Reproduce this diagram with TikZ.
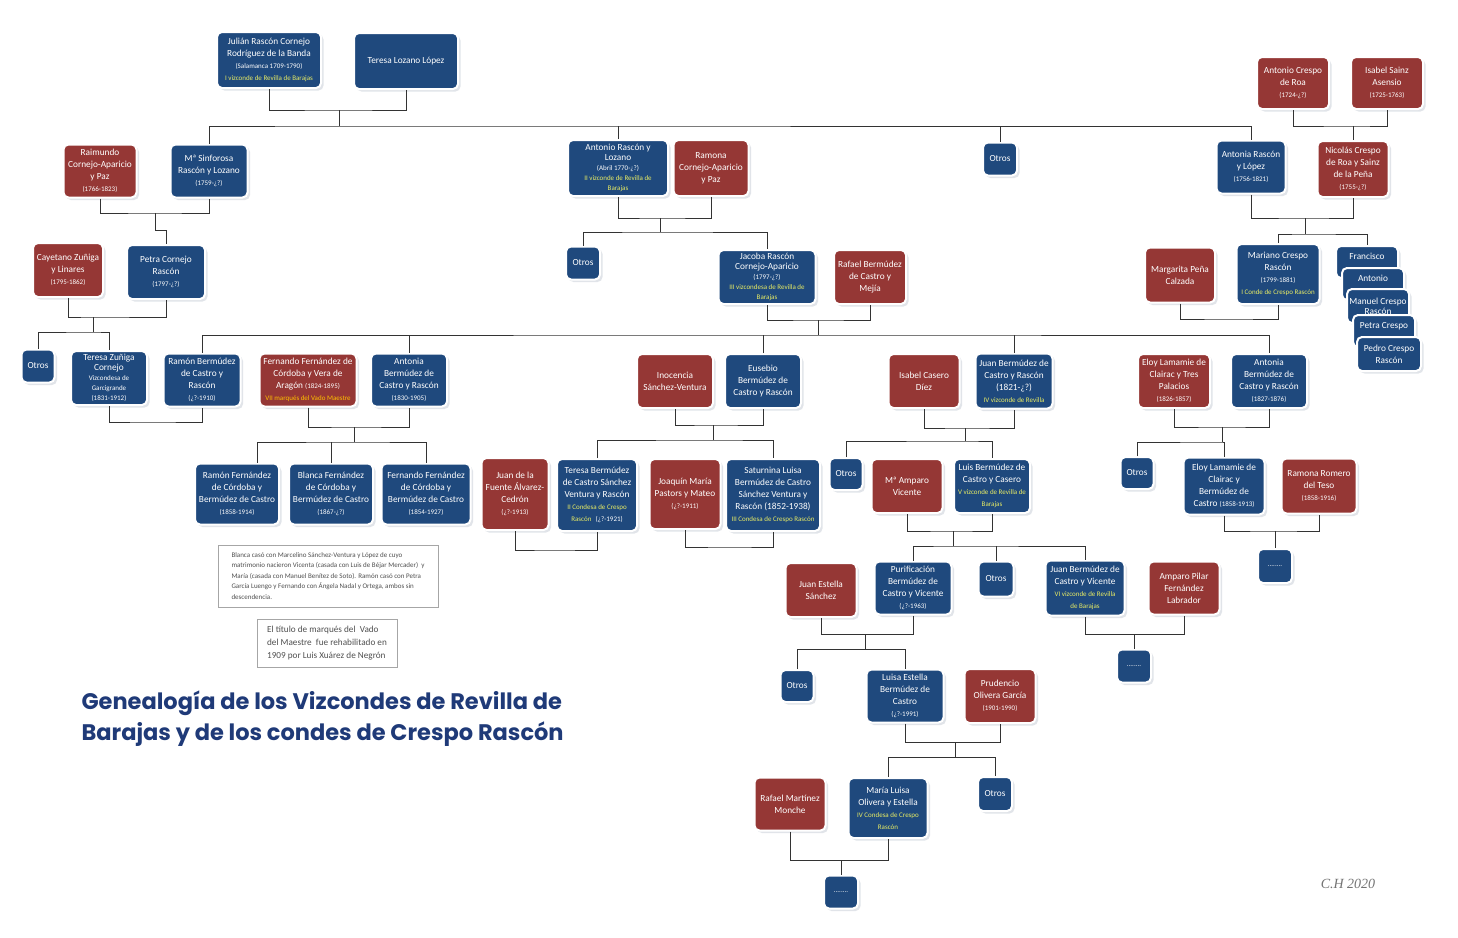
\documentclass[tikz,border=0pt]{standalone}
\usepackage{fontspec}
\setmainfont{Carlito}
\newfontfamily\titlefont{Poppins}
\newfontfamily\signfont{Liberation Serif}
\usetikzlibrary{shadows}

\definecolor{boxblue}{RGB}{31,73,125}
\definecolor{boxred}{RGB}{149,55,53}
\definecolor{titleyellow}{RGB}{232,236,100}
\definecolor{titleorange}{RGB}{255,192,0}
\definecolor{headblue}{RGB}{31,58,120}
\definecolor{notegray}{RGB}{80,80,80}

\makeatletter
\newcommand{\fecha}[1]{{\fontsize{7}{\f@baselineskip}\selectfont #1}}
\newcommand{\titulo}[1]{{\fontsize{7}{\f@baselineskip}\selectfont\color{titleyellow}#1}}
\newcommand{\marques}[1]{{\fontsize{7}{\f@baselineskip}\selectfont\color{titleorange}#1}}
\makeatother

\tikzset{
  person/.style={rounded corners=5pt, draw=white, line width=2pt, text=white,
    align=center, inner sep=1pt, font=\fontsize{9.3}{12}\selectfont,
    drop shadow={shadow xshift=2.5pt, shadow yshift=-2.5pt, fill=black!35!boxblue!25}},
  bluebox/.style={person, fill=boxblue},
  redbox/.style={person, fill=boxred},
  tight/.style={font=\fontsize{9.3}{10}\selectfont},
  sz/.style 2 args={minimum width=#1pt, minimum height=#2pt},
  link/.style={draw=black!80, line width=0.8pt},
  note/.style={draw=black!35, line width=0.6pt, align=left, text=notegray},
  heading/.style={anchor=base west, text=headblue, font=\titlefont\bfseries\fontsize{22.5}{31}\selectfont},
}

\begin{document}
\begin{tikzpicture}[x=1pt,y=-1pt]
  \fill[white] (0,0) rectangle (1458,937);
  \useasboundingbox (0,0) rectangle (1458,937);

  % first generation
  \node[bluebox, sz={104}{56}] (julian) at (269,60) {Julián Rascón Cornejo\\Rodríguez de la Banda\\\fecha{(Salamanca 1709-1790)}\\\titulo{I vizconde de Revilla de Barajas}};
  \node[bluebox, sz={104}{56}] (teresaL) at (406,61) {Teresa Lozano López};
  \node[redbox, sz={72}{52}] (antonioC) at (1293,83) {Antonio Crespo\\de Roa\\\fecha{(1724-¿?)}};
  \node[redbox, sz={72}{52}] (isabelS) at (1387,83) {Isabel Sainz\\Asensio\\\fecha{(1725-1763)}};

  % second generation
  \node[redbox, sz={73}{53}] (raimundo) at (100,171) {Raimundo\\Cornejo-Aparicio\\y Paz\\\fecha{(1766-1823)}};
  \node[bluebox, sz={77}{53}] (sinforosa) at (209,171) {Mª Sinforosa\\Rascón y Lozano\\\fecha{(1759-¿?)}};
  \node[bluebox, tight, sz={100}{56}] (antonioR) at (618,168) {Antonio Rascón y\\Lozano\\\fecha{(Abril 1770-¿?)}\\\titulo{II vizconde de Revilla de}\\\titulo{Barajas}};
  \node[redbox, sz={75}{56}] (ramona) at (711,168) {Ramona\\Cornejo-Aparicio\\y Paz};
  \node[bluebox, sz={34}{33}] (otrosA) at (1000,159) {Otros};
  \node[bluebox, sz={69}{53}] (antoniaR) at (1251,167) {Antonia Rascón\\y López\\\fecha{(1756-1821)}};
  \node[redbox, sz={71}{56}] (nicolas) at (1353,169) {Nicolás Crespo\\de Roa y Sainz\\de la Peña\\\fecha{(1755-¿?)}};

  % third generation
  \node[redbox, sz={70}{54}] (cayetano) at (68,270) {Cayetano Zuñiga\\y Linares\\\fecha{(1795-1862)}};
  \node[bluebox, sz={78}{54}] (petraR) at (166,272) {Petra Cornejo\\Rascón\\\fecha{(1797-¿?)}};
  \node[bluebox, sz={34}{33}] (otrosB) at (583,263) {Otros};
  \node[bluebox, tight, sz={97}{54}] (jacoba) at (767,277) {Jacoba Rascón\\Cornejo-Aparicio\\\fecha{(1797-¿?)}\\\titulo{III vizcondesa de Revilla de}\\\titulo{Barajas}};
  \node[redbox, sz={72}{54}] (rafaelB) at (870,277) {Rafael Bermúdez\\de Castro y\\Mejía};
  \node[redbox, sz={70}{55}] (margarita) at (1180,275) {Margarita Peña\\Calzada};
  \node[bluebox, sz={83}{60}] (mariano) at (1278,274) {Mariano Crespo\\Rascón\\\fecha{(1799-1881)}\\\titulo{I Conde de Crespo Rascón}};
  \node[bluebox, sz={62}{32}] (francisco) at (1367,262) {Francisco\\~};
  \node[bluebox, sz={62}{32}] (antonioS) at (1373,284) {Antonio\\~};
  \node[bluebox, tight, sz={62}{34}] (manuel) at (1378,306) {Manuel Crespo\\Rascón};
  \node[bluebox, sz={62}{32}] (petraC) at (1384,331) {Petra Crespo\\~};
  \node[bluebox, sz={64}{34}] (pedro) at (1389,354) {Pedro Crespo\\Rascón};

  % fourth generation
  \node[bluebox, sz={33}{33}] (otrosC) at (38,366) {Otros};
  \node[bluebox, tight, sz={76}{54}] (teresaZ) at (109,378) {Teresa Zuñiga\\Cornejo\\\fecha{Vizcondesa de}\\\fecha{Garcigrande}\\\fecha{(1831-1912)}};
  \node[bluebox, sz={77}{53}] (ramonB) at (202,380) {Ramón Bermúdez\\de Castro y\\Rascón\\\fecha{(¿?-1910)}};
  \node[redbox, sz={97}{53}] (fernandoV) at (308,380) {Fernando Fernández de\\Córdoba y Vera de\\Aragón \fecha{(1824-1895)}\\\marques{VII marqués del Vado Maestre}};
  \node[bluebox, sz={76}{53}] (antoniaB) at (409,380) {Antonia\\Bermúdez de\\Castro y Rascón\\\fecha{(1830-1905)}};
  \node[redbox, sz={76}{54}] (inocencia) at (675,381) {Inocencia\\Sánchez-Ventura};
  \node[bluebox, sz={76}{54}] (eusebio) at (763,381) {Eusebio\\Bermúdez de\\Castro y Rascón};
  \node[redbox, sz={71}{54}] (isabelC) at (924,381) {Isabel Casero\\Díez};
  \node[bluebox, sz={77}{55}] (juanB4) at (1014,381) {Juan Bermúdez de\\Castro y Rascón\\(1821-¿?)\\\titulo{IV vizconde de Revilla}};
  \node[redbox, sz={72}{54}] (eloyT) at (1174,381) {Eloy Lamamie de\\Clairac y Tres\\Palacios\\\fecha{(1826-1857)}};
  \node[bluebox, sz={76}{54}] (antoniaB2) at (1269,381) {Antonia\\Bermúdez de\\Castro y Rascón\\\fecha{(1827-1876)}};

  % fifth generation
  \node[bluebox, sz={84}{61}] (ramonF) at (237,494) {Ramón Fernández\\de Córdoba y\\Bermúdez de Castro\\\fecha{(1858-1914)}};
  \node[bluebox, sz={84}{61}] (blanca) at (331,494) {Blanca Fernández\\de Córdoba y\\Bermúdez de Castro\\\fecha{(1867-¿?)}};
  \node[bluebox, sz={89}{61}] (fernandoF) at (426,494) {Fernando Fernández\\de Córdoba y\\Bermúdez de Castro\\\fecha{(1854-1927)}};
  \node[redbox, sz={67}{72}] (juanF) at (515,494) {Juan de la\\Fuente Álvarez-\\Cedrón\\\fecha{(¿?-1913)}};
  \node[bluebox, sz={80}{72}] (teresaB) at (597,495) {Teresa Bermúdez\\de Castro Sánchez\\Ventura y Rascón\\\titulo{II Condesa de Crespo}\\\titulo{Rascón}\ \ \fecha{(¿?-1921)}};
  \node[redbox, sz={71}{70}] (joaquin) at (685,494) {Joaquín María\\Pastors y Mateo\\\fecha{(¿?-1911)}};
  \node[bluebox, sz={94}{72}] (saturnina) at (773,495) {Saturnina Luisa\\Bermúdez de Castro\\Sánchez Ventura y\\Rascón (1852-1938)\\\titulo{III Condesa de Crespo Rascón}};
  \node[bluebox, sz={33}{32}] (otrosD) at (846,474) {Otros};
  \node[redbox, sz={71}{54}] (amparoV) at (907,486) {Mª Amparo\\Vicente};
  \node[bluebox, sz={76}{54}] (luis) at (992,486) {Luis Bermúdez de\\Castro y Casero\\\titulo{V vizconde de Revilla de}\\\titulo{Barajas}};
  \node[bluebox, sz={33}{32}] (otrosE) at (1137,473) {Otros};
  \node[bluebox, sz={81}{57}] (eloyB) at (1224,486) {Eloy Lamamie de\\Clairac y\\Bermúdez de\\Castro \fecha{(1858-1913)}};
  \node[redbox, sz={75}{55}] (ramonaR) at (1319,486) {Ramona Romero\\del Teso\\\fecha{(1858-1916)}};
  \node[bluebox, sz={34}{34}] (dotsA) at (1275,566) {\fecha{........}};

  % sixth generation
  \node[redbox, sz={71}{54}] (juanE) at (821,590) {Juan Estella\\Sánchez};
  \node[bluebox, sz={77}{53}] (purificacion) at (913,588) {Purificación\\Bermúdez de\\Castro y Vicente\\\fecha{(¿?-1963)}};
  \node[bluebox, sz={35}{35}] (otrosF) at (996,579) {Otros};
  \node[bluebox, sz={79}{55}] (juanB6) at (1085,588) {Juan Bermúdez de\\Castro y Vicente\\\titulo{VI vizconde de Revilla}\\\titulo{de Barajas}};
  \node[redbox, sz={71}{53}] (amparoP) at (1184,588) {Amparo Pilar\\Fernández\\Labrador};
  \node[bluebox, sz={34}{33}] (dotsB) at (1134,666) {\fecha{........}};

  % seventh generation
  \node[bluebox, sz={33}{32}] (otrosG) at (797,686) {Otros};
  \node[bluebox, sz={77}{53}] (luisaE) at (905,696) {Luisa Estella\\Bermúdez de\\Castro\\\fecha{(¿?-1991)}};
  \node[redbox, sz={71}{54}] (prudencio) at (1000,696) {Prudencio\\Olivera García\\\fecha{(1901-1990)}};

  % eighth generation
  \node[redbox, sz={71}{53}] (rafaelM) at (790,804) {Rafael Martínez\\Monche};
  \node[bluebox, sz={79}{60}] (mariaL) at (888,808) {María Luisa\\Olivera y Estella\\\titulo{IV Condesa de Crespo}\\\titulo{Rascón}};
  \node[bluebox, sz={34}{34}] (otrosH) at (995,794) {Otros};
  \node[bluebox, sz={34}{33}] (dotsC) at (841,892) {\fecha{........}};

  % junction points
  \coordinate (u1) at (339,110);  \coordinate (b1) at (339,126);
  \coordinate (u2) at (1353,126);
  \coordinate (u3) at (155,213);  \coordinate (k3) at (155,230);
  \coordinate (u4) at (660,218);  \coordinate (b4) at (660,232);
  \coordinate (u5) at (1305,218); \coordinate (b5) at (1305,234);
  \coordinate (u6) at (93,317);   \coordinate (b6) at (93,332);
  \coordinate (u7) at (818,320);  \coordinate (b7) at (818,335);
  \coordinate (u8) at (1228,319);
  \coordinate (u9) at (150,422);
  \coordinate (u10) at (354,427); \coordinate (b10) at (354,442);
  \coordinate (u11) at (713,425); \coordinate (b11) at (713,440);
  \coordinate (u12) at (965,428); \coordinate (b12) at (965,441);
  \coordinate (u13) at (1222,427); \coordinate (b13) at (1222,442);
  \coordinate (u14) at (553,550);
  \coordinate (u15) at (730,547);
  \coordinate (u16) at (953,531); \coordinate (b16) at (953,546);
  \coordinate (u17) at (1275,531);
  \coordinate (u18) at (865,634); \coordinate (b18) at (865,649);
  \coordinate (u19) at (1134,634);
  \coordinate (u20) at (955,742); \coordinate (b20) at (955,757);
  \coordinate (u21) at (841,860);

  % family lines
  \begin{scope}[link]
    \draw (julian.south) |- (u1) -| (teresaL.south);
    \draw (u1) -- (b1);
    \draw (sinforosa.north) |- (b1) -| (antoniaR.north);
    \foreach \n in {antonioR, otrosA}
      \draw (\n.north) -- (\n.north |- b1);

    \draw (antonioC.south) |- (u2) -| (isabelS.south);
    \draw (u2) -- (nicolas.north);

    \draw (raimundo.south) |- (u3) -| (sinforosa.south);
    \draw (u3) -- (k3) -| (petraR.north);

    \draw (antonioR.south) |- (u4) -| (ramona.south);
    \draw (u4) -- (b4);
    \draw (otrosB.north) |- (b4) -| (jacoba.north);

    \draw (antoniaR.south) |- (u5) -| (nicolas.south);
    \draw (u5) -- (b5);
    \draw (mariano.north) |- (b5) -| (francisco.north);

    \draw (cayetano.south) |- (u6) -| (petraR.south);
    \draw (u6) -- (b6);
    \draw (otrosC.north) |- (b6) -| (teresaZ.north);

    \draw (jacoba.south) |- (u7) -| (rafaelB.south);
    \draw (u7) -- (b7);
    \draw (ramonB.north) |- (b7) -| (antoniaB2.north);
    \foreach \n in {antoniaB, eusebio, juanB4}
      \draw (\n.north) -- (\n.north |- b7);

    \draw (margarita.south) |- (u8) -| (mariano.south);
    \draw (teresaZ.south) |- (u9) -| (ramonB.south);

    \draw (fernandoV.south) |- (u10) -| (antoniaB.south);
    \draw (u10) -- (b10);
    \draw ([xshift=20pt]ramonF.north) |- (b10) -| (fernandoF.north);
    \draw (blanca.north) -- (blanca.north |- b10);

    \draw (inocencia.south) |- (u11) -| (eusebio.south);
    \draw (u11) -- (b11);
    \draw (teresaB.north) |- (b11) -| (saturnina.north);

    \draw (isabelC.south) |- (u12) -| (juanB4.south);
    \draw (u12) -- (b12);
    \draw (otrosD.north) |- (b12) -| (luis.north);

    \draw (eloyT.south) |- (u13) -| (antoniaB2.south);
    \draw (u13) -- (b13);
    \draw (otrosE.north) |- (b13) -| (eloyB.north);

    \draw (juanF.south) |- (u14) -| (teresaB.south);
    \draw (joaquin.south) |- (u15) -| (saturnina.south);

    \draw (amparoV.south) |- (u16) -| (luis.south);
    \draw (u16) -- (b16);
    \draw (purificacion.north) |- (b16) -| (juanB6.north);
    \draw (otrosF.north) -- (otrosF.north |- b16);

    \draw (eloyB.south) |- (u17) -| (ramonaR.south);
    \draw (u17) -- (dotsA.north);

    \draw (juanE.south) |- (u18) -| (purificacion.south);
    \draw (u18) -- (b18);
    \draw (otrosG.north) |- (b18) -| (luisaE.north);

    \draw (juanB6.south) |- (u19) -| (amparoP.south);
    \draw (u19) -- (dotsB.north);

    \draw (luisaE.south) |- (u20) -| (prudencio.south);
    \draw (u20) -- (b20);
    \draw (mariaL.north) |- (b20) -| (otrosH.north);

    \draw (rafaelM.south) |- (u21) -| (mariaL.south);
    \draw (u21) -- (dotsC.north);
  \end{scope}

  % notes
  \node[note, sz={220}{62}, font=\fontsize{7}{10.5}\selectfont] (nota1) at (328,576)
    {Blanca casó con Marcelino Sánchez-Ventura y López de cuyo\\
     matrimonio nacieron Vicenta (casada con Luis de Béjar Mercader)\ \ y\\
     María (casada con Manuel Benítez de Soto). Ramón casó con Petra\\
     García Luengo y Fernando con Ángela Nadal y Ortega, ambos sin\\
     descendencia.};
  \node[note, sz={140}{48}, font=\fontsize{9.2}{13}\selectfont] (nota2) at (327,643)
    {El título de marqués del\ \ Vado\\del Maestre\ \ fue rehabilitado en\\1909 por Luis Xuárez de Negrón};

  % title and signature
  \node[heading] (cabecera1) at (78,709) {Genealogía de los Vizcondes de Revilla de};
  \node[heading] (cabecera2) at (78,740) {Barajas y de los condes de Crespo Rascón};
  \node[text=black!55, font=\signfont\itshape\fontsize{14}{14}\selectfont] (firma) at (1348,884) {C.H 2020};
\end{tikzpicture}
\end{document}
